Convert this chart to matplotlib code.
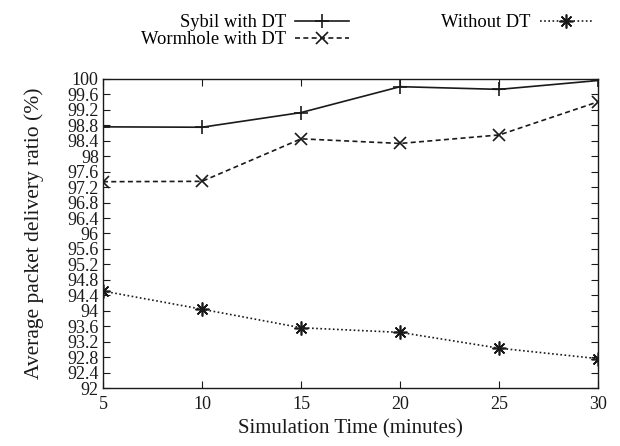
import numpy as np
import matplotlib
matplotlib.use("Agg")
import matplotlib.pyplot as plt

plt.rcParams['font.family'] = ['Liberation Serif', 'DejaVu Serif']

times = [5, 10, 15, 20, 25, 30]
sybil = [98.76, 98.75, 99.13, 99.80, 99.73, 99.96]
wormhole = [97.34, 97.35, 98.45, 98.33, 98.55, 99.41]
without = [94.51, 94.04, 93.56, 93.44, 93.03, 92.76]
yticks = [round(92 + 0.4 * k, 1) for k in range(21)]
ytick_labels = ['%g' % v for v in yticks]
xticks = [5, 10, 15, 20, 25, 30]

fig = plt.figure(figsize=(6.2, 4.46), dpi=100)
ax = fig.add_axes([0.166, 0.130, 0.799, 0.693])

ax.plot(times, sybil, color='#1a1a1a', lw=1.2, ls='-', marker='+', ms=10, mew=1.2,
        label='Sybil with DT')
ax.plot(times, wormhole, color='#1a1a1a', lw=1.2, ls=(0, (3, 2)), marker='x', ms=9, mew=1.2,
        label='Wormhole with DT')
ax.plot(times, without, color='#1a1a1a', lw=1.2, ls=(0, (1, 1.5)), marker=(8, 2, 0), ms=10, mew=1.2,
        label='Without DT')

ax.set_xlim(5, 30)
ax.set_ylim(92, 100)
ax.set_xticks(xticks)
ax.set_yticks(yticks)
ax.set_yticklabels(ytick_labels)
ax.tick_params(direction='in', length=5, width=0.8, top=True, right=True,
               labelsize=13, colors='#1a1a1a', pad=3)
ax.tick_params(axis='x', pad=6)
for s in ax.spines.values():
    s.set_linewidth(1.0)
    s.set_color('#1a1a1a')

ax.set_xlabel('Simulation Time (minutes)', fontsize=15, color='#1a1a1a', labelpad=4)
ax.set_ylabel('Average packet delivery ratio (%)', fontsize=15.5, color='#1a1a1a', labelpad=17)

fig.legend(loc='upper center', bbox_to_anchor=(0.592, 1.005), ncol=2, frameon=False,
           markerfirst=False, fontsize=13.3, handlelength=2.9, handletextpad=0.5,
           columnspacing=5.0, labelspacing=0.0)

fig.savefig('out.png', dpi=100)
